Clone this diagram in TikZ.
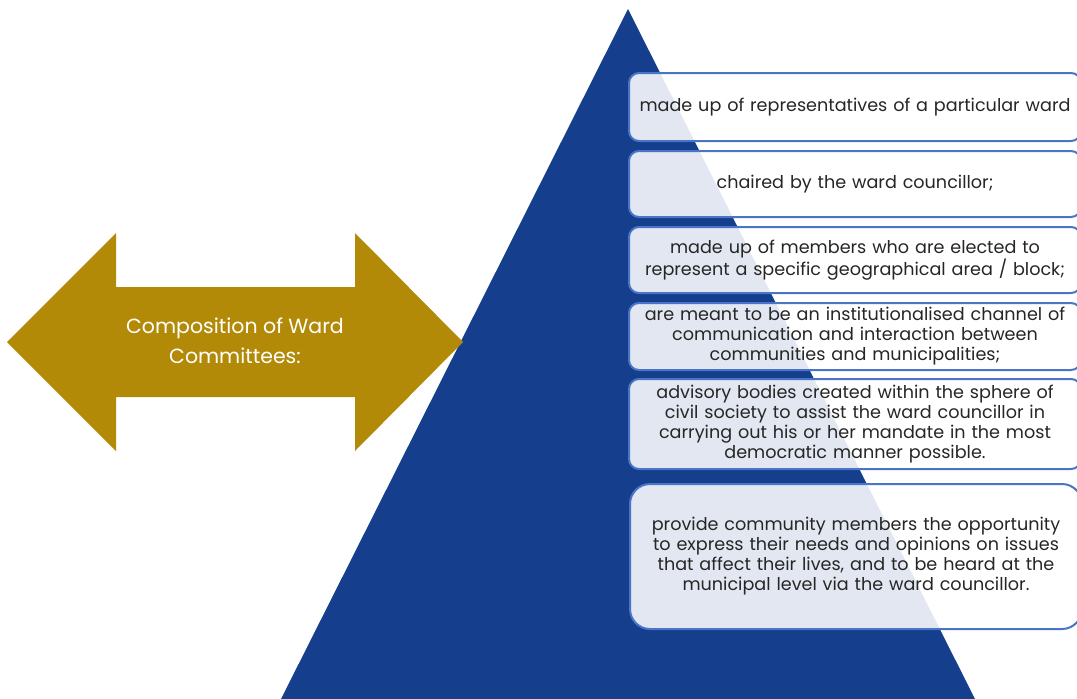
\documentclass[tikz,border=0pt]{standalone}
\usepackage{fontspec}
\setmainfont{Poppins}
\definecolor{pyrblue}{HTML}{153E8D}
\definecolor{arrgold}{HTML}{B38A08}
\definecolor{boxline}{HTML}{4A75C6}
\definecolor{boxtext}{HTML}{262626}
\tikzset{
  wbox/.style={draw=boxline, line width=2pt, fill=white, fill opacity=0.88,
    text opacity=1, text=boxtext, rounded corners=10pt, minimum width=452pt,
    text width=446pt, align=center, inner sep=0pt,
    font=\fontsize{17.6}{20}\selectfont},
}
\begin{document}
\begin{tikzpicture}[x=1pt,y=-1pt]
\useasboundingbox (0,0) rectangle (1077,699);
\clip (0,0) rectangle (1077,699);

% pyramid
\fill[pyrblue] (628,9) -- (978,705) -- (278,705) -- cycle;

% double arrow
\fill[arrgold] (7,342) -- (116,233) -- (116,287) -- (355,287) -- (355,233)
  -- (463,342) -- (355,451) -- (355,397) -- (116,397) -- (116,451) -- cycle;
\node[text=white, align=center, font=\fontsize{20.5}{30}\selectfont] (title) at (235,341)
  {Composition of Ward\\Committees:};

% boxes
\node[wbox, minimum height=68pt] (b1) at (855,107)
  {made up of representatives of a particular ward};
\node[wbox, minimum height=66pt] (b2) at (855,184)
  {chaired by the ward councillor;};
\node[wbox, minimum height=66pt] (b3) at (855,260)
  {made up of members who are elected to\\represent a specific geographical area / block;};
\node[wbox, minimum height=67pt] (b4) at (855,336.5)
  {are meant to be an institutionalised channel of\\communication and interaction between\\communities and municipalities;};
\node[wbox, minimum height=90pt] (b5) at (855,424)
  {advisory bodies created within the sphere of\\civil society to assist the ward councillor in\\carrying out his or her mandate in the most\\democratic manner possible.};
\node[wbox, minimum height=145pt, rounded corners=20pt] (b6) at (856,556.5)
  {provide community members the opportunity\\to express their needs and opinions on issues\\that affect their lives, and to be heard at the\\municipal level via the ward councillor.};
\end{tikzpicture}
\end{document}
